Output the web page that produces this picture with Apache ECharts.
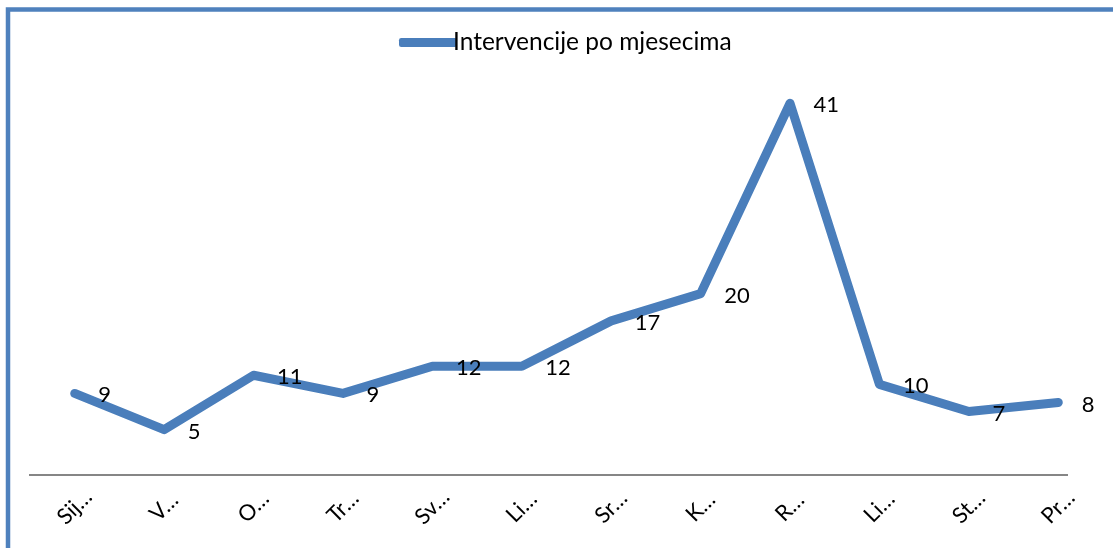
<!DOCTYPE html>
<html>
<head>
<meta charset="utf-8">
<script src="https://cdn.jsdelivr.net/npm/echarts@6/dist/echarts.min.js"></script>
<style>
html,body{margin:0;padding:0;background:#fff;}
#c{width:1113px;height:548px;}
</style>
</head>
<body>
<div id="c"></div>
<script>
const months = ['Siječanj','Veljača','Ožujak','Travanj','Svibanj','Lipanj','Srpanj','Kolovoz','Rujan','Listopad','Studeni','Prosinac'];
const tickLabels = ['Sij…','V…','O…','Tr…','Sv…','Li…','Sr…','K…','R…','Li…','St…','Pr…'];
const values = [9,5,11,9,12,12,17,20,41,10,7,8];
const seriesName = 'Intervencije po mjesecima';

const chart = echarts.init(document.getElementById('c'));
chart.setOption({
  animation:false,
  backgroundColor:'#fff',
  textStyle:{fontFamily:'Lato'},
  graphic:[
    {type:'rect', z:-1, shape:{x:8,y:9.5,width:1200,height:600},
     style:{fill:'none',stroke:'#4f81bd',lineWidth:4.5}},
    {type:'line', z:-1, shape:{x1:29,y1:475,x2:1068,y2:475},
     style:{stroke:'#868686',lineWidth:2}}
  ],
  legend:{
    left:394, top:25,
    icon:'roundRect',
    itemWidth:58, itemHeight:9, itemGap:0,
    textStyle:{fontSize:24.5,color:'#000',fontFamily:'Lato',padding:[0,0,0,-9]},
    data:[{name:seriesName,itemStyle:{color:'#4a7ebb'}}]
  },
  grid:{left:30,right:10,top:67,bottom:73},
  xAxis:{
    type:'category',
    data:months,
    boundaryGap:true,
    axisLine:{show:false},
    axisTick:{show:false},
    axisLabel:{
      interval:0, rotate:45, margin:32, fontSize:22, color:'#000', fontFamily:'Lato',
      align:'center', verticalAlign:'middle',
      formatter:(v,i)=>tickLabels[i]
    }
  },
  yAxis:{type:'value',min:0,max:45,show:false,splitLine:{show:false}},
  series:[{
    name:seriesName,
    type:'line',
    data:values,
    symbol:'circle',
    symbolSize:1,
    showSymbol:true,
    lineStyle:{color:'#4a7ebb',width:9,cap:'round',join:'round'},
    itemStyle:{color:'#4a7ebb'},
    label:{show:true,position:'right',distance:23,offset:[0,2],fontSize:22,color:'#000',fontFamily:'Lato'}
  }]
});
</script>
</body>
</html>
